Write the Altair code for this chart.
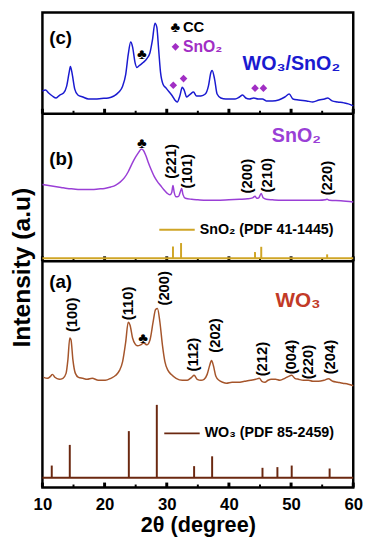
import altair as alt
import pandas as pd

FONT = "Liberation Sans"

# ---------------- data ----------------
# (c) WO3/SnO2 composite pattern (arbitrary units, panel-local)
c_x = [10.0, 10.5, 11.0, 11.6, 12.2, 12.8, 13.4, 13.9, 14.3, 14.5, 14.8, 15.2, 15.7, 16.5, 17.4,
       18.5, 19.5, 20.6, 21.5, 22.3, 22.9, 23.4, 23.8, 24.2, 24.5, 24.9, 25.2, 25.6, 26.2, 26.8,
       27.3, 27.7, 28.1, 28.4, 28.7, 29.0, 29.4, 29.9, 30.4, 30.9, 31.3, 31.7, 32.1, 32.5, 32.8,
       33.2, 33.8, 34.3, 34.8, 35.5, 36.2, 36.7, 37.1, 37.3, 37.7, 38.1, 38.7, 39.5, 40.2, 41.0,
       41.7, 42.2, 42.7, 43.3, 44.0, 44.7, 45.4, 46.0, 47.0, 48.0, 49.0, 49.7, 50.3, 51.2, 52.5,
       53.5, 54.5, 55.4, 55.9, 56.6, 57.5, 58.5, 59.2, 60.0]
c_y = [23, 24, 21, 18, 16, 19, 21, 28, 42, 48, 40, 25, 19, 17, 15,
       15, 15.5, 16, 18, 22, 28, 40, 60, 73, 68, 52, 47, 49, 52, 56,
       62, 75, 92, 88, 65, 42, 30, 26, 22, 18, 14, 12, 18, 27, 24,
       17, 20, 22, 18, 18, 20, 28, 42, 44, 35, 20, 16, 15, 15, 15,
       17, 19, 16, 15, 16, 15, 15, 13, 13, 14, 17, 20, 15, 14, 13,
       12, 14, 15, 16, 13, 12, 11, 10, 8]

# (b) SnO2 pattern
b_x = [10.0, 11.0, 12.0, 13.0, 14.0, 15.0, 16.0, 17.0, 18.0, 19.0, 20.0, 21.0, 21.8, 22.5, 23.2,
       23.8, 24.4, 25.0, 25.5, 25.9, 26.2, 26.6, 27.0, 27.5, 28.0, 28.5, 29.0, 29.5, 30.0, 30.5,
       30.8, 31.0, 31.2, 31.5, 31.9, 32.2, 32.4, 32.6, 33.0, 34.0, 35.0, 36.4, 38.0, 40.0, 41.7,
       43.0, 43.8, 44.2, 44.5, 44.8, 45.2, 45.5, 46.0, 47.0, 48.5, 50.7, 52.5, 54.5, 55.5, 55.8,
       56.2, 58.0, 60.0]
b_y = [78, 77, 76, 75, 74, 73.5, 73, 73, 73, 73.5, 74, 75.5, 77.5, 80.5, 85,
       91, 99, 106, 111, 114, 113, 108, 101, 93, 86, 81, 77, 73, 69.5, 67.5,
       70, 77, 70, 65.5, 66, 71, 74, 68, 64, 63, 62.5, 62, 62, 62.5, 63,
       63.5, 64.5, 66, 64, 64.5, 69, 64.5, 63, 62.5, 62, 62, 62, 62, 62.5, 63,
       62, 61.5, 60.3]

# (a) WO3 pattern
a_x = [10.2, 10.8, 11.3, 11.6, 12.0, 12.7, 13.3, 13.8, 14.1, 14.4, 14.6, 14.9, 15.3, 15.8, 16.5,
       17.2, 18.0, 19.0, 20.1, 21.0, 21.8, 22.4, 22.9, 23.4, 23.8, 24.1, 24.5, 24.9, 25.3, 25.8,
       26.3, 26.8, 27.3, 27.8, 28.2, 28.5, 28.9, 29.3, 29.7, 30.2, 30.7, 31.5, 32.5, 33.3, 34.0,
       34.4, 34.9, 35.5, 36.0, 36.5, 36.9, 37.2, 37.5, 37.9, 38.4, 39.0, 39.6, 40.5, 41.5, 42.5,
       43.5, 44.3, 44.9, 45.3, 45.8, 46.3, 46.8, 47.5, 48.2, 49.0, 49.6, 50.1, 50.6, 51.2, 52.0,
       52.8, 53.5, 54.4, 55.3, 56.0, 56.7, 57.5, 58.3, 59.2, 60.0]
a_y = [112, 111, 113, 115, 112, 110, 111, 116, 130, 152, 150, 130, 116, 112, 111,
       110, 111, 109, 109, 111, 114, 119, 128, 148, 168, 165, 152, 146, 144, 145,
       147, 145, 150, 168, 181, 182, 168, 145, 128, 119, 115, 111, 109, 109, 112,
       114, 110, 109, 110, 115, 124, 129, 124, 113, 109, 107, 106, 107, 107, 108,
       109, 110, 111, 108, 107, 109, 110, 110, 109, 111, 113, 114, 111, 110, 109,
       109, 108, 108, 109, 110.5, 108, 107, 106, 105, 103.5]

# reference patterns (stick heights above their baseline)
sno2_ref_x = [31.0, 32.3, 44.2, 45.2, 55.8]
sno2_ref_h = [12, 15.5, 6.3, 11.7, 4]
sno2_base = 3
wo3_ref_x = [11.5, 14.4, 23.9, 28.4, 34.4, 37.3, 45.4, 47.8, 50.1, 56.2]
wo3_ref_h = [12.3, 33.3, 47.3, 74, 11.7, 21.7, 10, 10.7, 12.3, 9.3]
wo3_base = 10

# Miller index labels
b_hkl = ["(221)", "(101)", "(200)", "(210)", "(220)"]
b_hkl_x = [30.7, 33.3, 43.0, 46.1, 55.8]
b_hkl_y = [84, 74, 69, 70, 67]
a_hkl = ["(100)", "(110)", "(200)", "(112)", "(202)", "(212)", "(004)", "(220)", "(204)"]
a_hkl_x = [14.8, 23.8, 29.6, 34.3, 37.7, 45.4, 50.0, 52.8, 56.2]
a_hkl_y = [158, 170, 185, 118, 137, 113, 115, 110, 115]

# SnO2 markers in (c)
c_dia_x = [31.05, 32.7, 44.2, 45.55]
c_dia_y = [29, 35.7, 26, 26]

major_ticks = [10, 20, 30, 40, 50, 60]
minor_ticks = [15, 25, 35, 45, 55]

# ---------------- layout / styling ----------------
W = 316
H_A, H_B, H_C = 230, 150, 103          # panel heights (stacked bottom to top)
OFF_A, OFF_B, OFF_C = 0, H_A, H_A + H_B
H = H_A + H_B + H_C

BLUE = "#1A1AD0"
PURPLE = "#9A3FD6"
DIAMOND = "#A12EC4"
BROWN = "#A5552B"
STICK_BROWN = "#6B2810"
GOLD = "#CFA526"
WO3_RED = "#C23A27"

xscale = alt.Scale(domain=[10, 60], nice=False)
yscale = alt.Scale(domain=[0, H], nice=False, zero=False)

x_axis = alt.Axis(values=major_ticks, title="2θ (degree)", format="d", labelFlush=False,
                  labelOverlap=False,
                  labelFont=FONT, labelFontSize=17, labelFontWeight="bold", labelColor="black",
                  titleFont=FONT, titleFontSize=22, titleFontWeight="bold", titleColor="black",
                  ticks=False, domain=False, grid=False, labelPadding=9, titlePadding=3)
y_axis = alt.Axis(title="Intensity (a.u)", labels=False, ticks=False, domain=False, grid=False,
                  titleFont=FONT, titleFontSize=25, titleFontWeight="bold", titleColor="black",
                  titleAngle=270, titleAlign="center", titleBaseline="middle",
                  titleX=-21, titleY=259)

X = alt.X("x:Q", scale=xscale, axis=x_axis)
Y = alt.Y("y:Q", scale=yscale, axis=y_axis)


def shift(vals, off):
    return [v + off for v in vals]


def line(xs, ys, off, color):
    df = pd.DataFrame({"x": xs, "y": shift(ys, off)})
    return alt.Chart(df).mark_line(color=color, strokeWidth=1.5, interpolate="monotone").encode(x=X, y=Y)


def sticks(xs, hs, base, off, color):
    df = pd.DataFrame({"x": xs, "y": [base + off] * len(xs), "y2": [base + off + h for h in hs]})
    return alt.Chart(df).mark_rule(color=color, strokeWidth=2).encode(x=X, y=Y, y2="y2:Q")


def hline(x1, x2, y, color, width=2):
    df = pd.DataFrame({"x": [x1], "x2": [x2], "y": [y]})
    return alt.Chart(df).mark_rule(color=color, strokeWidth=width).encode(x=X, x2="x2:Q", y=Y)


def txt(t, x, y, size, color="black", align="left", angle=0):
    if isinstance(t, list):
        df = pd.DataFrame({"t": t, "x": x, "y": y})
    else:
        df = pd.DataFrame({"t": [t], "x": [x], "y": [y]})
    return alt.Chart(df).mark_text(
        font=FONT, fontWeight="bold", fontSize=size, color=color, align=align,
        baseline="middle", angle=angle).encode(x=X, y=Y, text="t:N")


def ticks(off):
    maj = pd.DataFrame({"x": major_ticks, "y": [off] * 6, "y2": [off + 5] * 6})
    mnr = pd.DataFrame({"x": minor_ticks, "y": [off] * 5, "y2": [off + 3] * 5})
    return [alt.Chart(maj).mark_rule(color="black", strokeWidth=3).encode(x=X, y=Y, y2="y2:Q"),
            alt.Chart(mnr).mark_rule(color="black", strokeWidth=2).encode(x=X, y=Y, y2="y2:Q")]


layers = []
# panel separators
layers += [hline(10, 60, OFF_B, "black", 2.5), hline(10, 60, OFF_C, "black", 2.5)]
for off in (OFF_A, OFF_B, OFF_C):
    layers += ticks(off)

# ---- panel (a)
layers += [
    hline(10, 60, wo3_base, STICK_BROWN),
    sticks(wo3_ref_x, wo3_ref_h, wo3_base, OFF_A, STICK_BROWN),
    line(a_x, a_y, OFF_A, BROWN),
    hline(29.6, 35.3, 55, STICK_BROWN),
    txt(a_hkl, a_hkl_x, shift(a_hkl_y, OFF_A), 15, angle=270),
    txt("(a)", 11.1, 209, 19),
    txt("♣", 26.2, 152, 15, align="center"),
    txt("WO₃", 47.5, 189, 21, color=WO3_RED),
    txt("WO₃ (PDF 85-2459)", 36.1, 55, 14.5),
]

# ---- panel (b)
layers += [
    hline(10, 60, OFF_B + sno2_base, GOLD),
    sticks(sno2_ref_x, sno2_ref_h, sno2_base, OFF_B, GOLD),
    line(b_x, b_y, OFF_B, PURPLE),
    hline(28.8, 34.5, OFF_B + 32, GOLD),
    txt(b_hkl, b_hkl_x, shift(b_hkl_y, OFF_B), 15, angle=270),
    txt("(b)", 11.1, OFF_B + 104, 19),
    txt("♣", 26.0, OFF_B + 120, 15, align="center"),
    txt("SnO₂", 46.9, OFF_B + 127, 20, color=PURPLE),
    txt("SnO₂ (PDF 41-1445)", 35.3, OFF_B + 32, 14.5),
]

# ---- panel (c)
dia_df = pd.DataFrame({"x": c_dia_x + [31.4], "y": shift(c_dia_y + [68], OFF_C)})
layers += [
    line(c_x, c_y, OFF_C, BLUE),
    alt.Chart(dia_df).mark_point(shape="diamond", filled=True, size=60, color=DIAMOND,
                                 opacity=1).encode(x=X, y=Y),
    txt("(c)", 11.1, OFF_C + 77, 19),
    txt("♣", 31.4, OFF_C + 88, 15, align="center"),
    txt("♣", 26.0, OFF_C + 61, 15, align="center"),
    txt("CC", 32.6, OFF_C + 88, 15),
    txt("SnO₂", 32.6, OFF_C + 68, 16, color=DIAMOND),
    txt("WO₃/SnO₂", 42.2, OFF_C + 50, 20, color=BLUE),
]

chart = alt.layer(*layers).properties(
    width=W, height=H,
    padding={"left": 2, "top": 0, "right": 5, "bottom": 5}
).configure_view(stroke="black", strokeWidth=2.5)

chart.save("out.html", embed_options={"renderer": "svg", "actions": False})
